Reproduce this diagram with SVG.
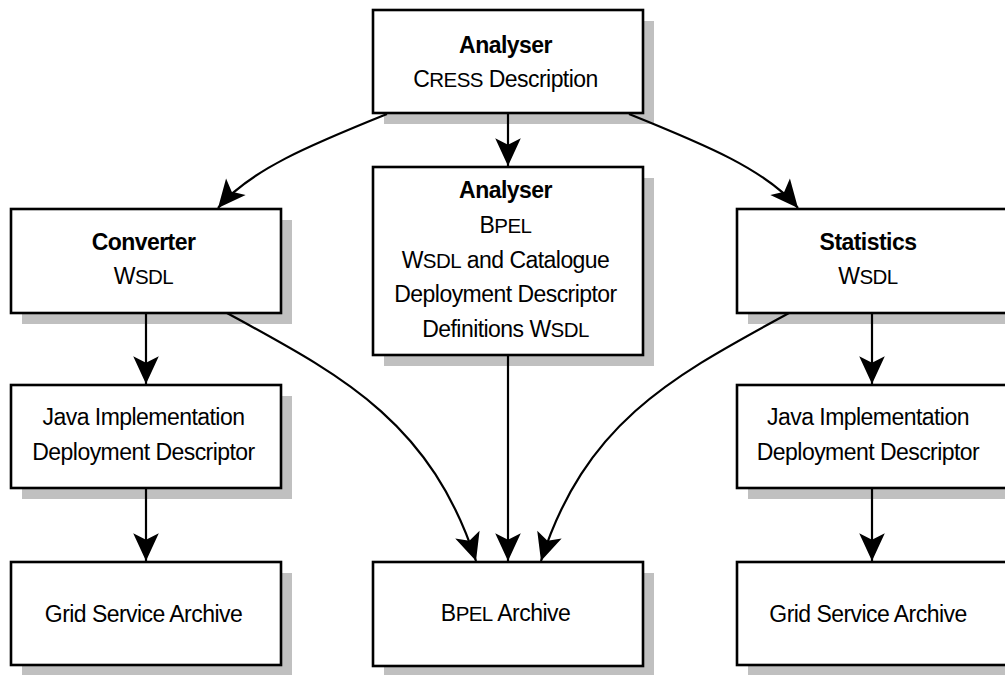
<svg xmlns="http://www.w3.org/2000/svg" width="1005" height="675" viewBox="0 0 1005 675">
<style>
.shadow{fill:#c0c0c0;stroke:none}
.box{fill:#ffffff;stroke:#000;stroke-width:2.6}
text{font-family:"Liberation Sans",Arial,Helvetica,sans-serif;font-size:23px;letter-spacing:-0.55px;fill:#000;text-anchor:middle}
.b{font-weight:bold}
.sc{font-size:20.5px}
.edge{fill:none;stroke:#000;stroke-width:2.2}
</style>
<defs>
<marker id="arr" markerUnits="userSpaceOnUse" markerWidth="32" markerHeight="32" viewBox="-28 -14 30 28" refX="0" refY="0" orient="auto">
<path d="M0,0 L-26,-12 L-20,0 L-26,12 Z" fill="#000"/>
</marker>
</defs>
<rect width="1005" height="675" fill="#fff"/>

<g id="top">
<rect class="shadow" x="384" y="21" width="270" height="103"/>
<rect class="box" x="373" y="10" width="270" height="103"/>
<text x="505.5" y="53" class="b">Analyser</text>
<text x="505.5" y="87">C<tspan class="sc">RESS</tspan> Description</text>
</g>

<g id="converter">
<rect class="shadow" x="22" y="220" width="270" height="104"/>
<rect class="box" x="11" y="209" width="270" height="104"/>
<text x="143.5" y="250" class="b">Converter</text>
<text x="143.5" y="284">W<tspan class="sc">SDL</tspan></text>
</g>

<g id="analyser2">
<rect class="shadow" x="384" y="178" width="270" height="188"/>
<rect class="box" x="373" y="167" width="270" height="188"/>
<text x="505.5" y="198" class="b">Analyser</text>
<text x="505.5" y="233">B<tspan class="sc">PEL</tspan></text>
<text x="505.5" y="268">W<tspan class="sc">SDL</tspan> and Catalogue</text>
<text x="505.5" y="302">Deployment Descriptor</text>
<text x="505.5" y="337">Definitions W<tspan class="sc">SDL</tspan></text>
</g>

<g id="statistics">
<rect class="shadow" x="748" y="220" width="270" height="104"/>
<rect class="box" x="737" y="209" width="270" height="104"/>
<text x="868" y="250" class="b">Statistics</text>
<text x="868" y="284">W<tspan class="sc">SDL</tspan></text>
</g>

<g id="java-left">
<rect class="shadow" x="22" y="396" width="270" height="103"/>
<rect class="box" x="11" y="385" width="270" height="103"/>
<text x="143.5" y="425">Java Implementation</text>
<text x="143.5" y="460">Deployment Descriptor</text>
</g>

<g id="java-right">
<rect class="shadow" x="748" y="396" width="270" height="103"/>
<rect class="box" x="737" y="385" width="270" height="103"/>
<text x="868" y="425">Java Implementation</text>
<text x="868" y="460">Deployment Descriptor</text>
</g>

<g id="grid-left">
<rect class="shadow" x="22" y="573" width="270" height="103"/>
<rect class="box" x="11" y="562" width="270" height="103"/>
<text x="143.5" y="622">Grid Service Archive</text>
</g>

<g id="bpel-archive">
<rect class="shadow" x="384" y="573" width="270" height="104"/>
<rect class="box" x="373" y="562" width="270" height="104"/>
<text x="505.5" y="621">B<tspan class="sc">PEL</tspan> Archive</text>
</g>

<g id="grid-right">
<rect class="shadow" x="748" y="573" width="270" height="103"/>
<rect class="box" x="737" y="562" width="270" height="103"/>
<text x="868" y="622">Grid Service Archive</text>
</g>

<g id="connectors">
<path class="edge" d="M387,114 C310,145 250,170 218,208" marker-end="url(#arr)"/>
<path class="edge" d="M629,114 C706,145 766,170 798,208" marker-end="url(#arr)"/>
<path class="edge" d="M508,113 L508,166" marker-end="url(#arr)"/>
<path class="edge" d="M146,313 L146,384" marker-end="url(#arr)"/>
<path class="edge" d="M872,313 L872,384" marker-end="url(#arr)"/>
<path class="edge" d="M146,488 L146,561" marker-end="url(#arr)"/>
<path class="edge" d="M872,488 L872,561" marker-end="url(#arr)"/>
<path class="edge" d="M508,355 L508,561" marker-end="url(#arr)"/>
<path class="edge" d="M227,313 C340,375 430,420 476,561" marker-end="url(#arr)"/>
<path class="edge" d="M789,313 C676,375 586,420 541,561" marker-end="url(#arr)"/>
</g>
</svg>
